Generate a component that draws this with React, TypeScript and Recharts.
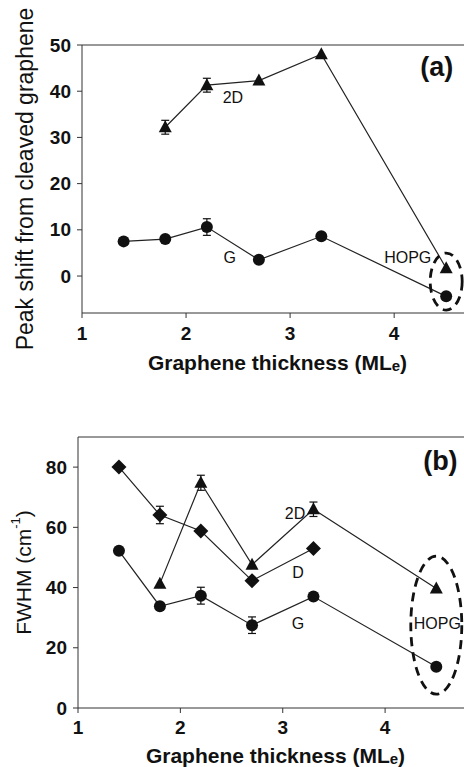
import React from 'react';
import {
  LineChart,
  Line,
  XAxis,
  YAxis,
  ErrorBar,
  ReferenceDot,
  ReferenceLine,
  Label,
} from 'recharts';

// Panel (a): peak shift vs graphene thickness
const aThick2D = [1.8, 2.2, 2.7, 3.3, 4.5];
const aShift2D = [32.2, 41.3, 42.3, 48.0, 1.7];
const aErr2D = [1.5, 1.5, null, null, null];

const aThickG = [1.4, 1.8, 2.2, 2.7, 3.3, 4.5];
const aShiftG = [7.5, 8.0, 10.6, 3.5, 8.6, -4.4];
const aErrG = [null, null, 1.8, null, null, null];

// Panel (b): FWHM vs graphene thickness
const bThickD = [1.4, 1.8, 2.2, 2.7, 3.3];
const bFwhmD = [80.0, 64.1, 58.8, 42.3, 53.0];
const bErrD = [null, 2.9, null, null, null];

const bThick2D = [1.8, 2.2, 2.7, 3.3, 4.5];
const bFwhm2D = [41.3, 74.8, 47.6, 66.0, 39.7];
const bErr2D = [null, 2.5, null, 2.4, null];

const bThickG = [1.4, 1.8, 2.2, 2.7, 3.3, 4.5];
const bFwhmG = [52.2, 33.8, 37.3, 27.5, 37.0, 13.7];
const bErrG = [null, null, 2.8, 2.75, null, null];

const xTicks = [1, 2, 3, 4];
const aYTicks = [0, 10, 20, 30, 40, 50];
const bYTicks = [0, 20, 40, 60, 80];

const toRows = (xs: number[], ys: number[], errs: (number | null)[]) =>
  xs.map((x, i) => ({ x, y: ys[i], err: errs[i] }));

const a2D = toRows(aThick2D, aShift2D, aErr2D);
const aG = toRows(aThickG, aShiftG, aErrG);
const bD = toRows(bThickD, bFwhmD, bErrD);
const b2D = toRows(bThick2D, bFwhm2D, bErr2D);
const bG = toRows(bThickG, bFwhmG, bErrG);

const FONT = '"Liberation Sans", Arial, sans-serif';
const INK = '#111';
const LINE = '#222';
const TICK_FONT = 19;

/* marker shapes */
const circleDot = (p: any) => (
  <circle key={`c${p.index}`} cx={p.cx} cy={p.cy} r={6} fill={INK} />
);
const triangleDot = (p: any) => (
  <polygon
    key={`t${p.index}`}
    points={`${p.cx},${p.cy - 7} ${p.cx - 6.5},${p.cy + 5} ${p.cx + 6.5},${p.cy + 5}`}
    fill={INK}
  />
);
const diamondDot = (p: any) => (
  <polygon
    key={`d${p.index}`}
    points={`${p.cx},${p.cy - 7.5} ${p.cx + 7.5},${p.cy} ${p.cx},${p.cy + 7.5} ${p.cx - 7.5},${p.cy}`}
    fill={INK}
  />
);

/* tick labels, bold like the original */
const xTick = (p: any) => (
  <text
    x={p.x}
    y={p.y + 12}
    textAnchor="middle"
    dominantBaseline="central"
    style={{ fontFamily: FONT, fontSize: TICK_FONT, fontWeight: 700 }}
    fill={INK}
  >
    {p.payload.value}
  </text>
);
const yTick = (p: any) => (
  <text
    x={p.x}
    y={p.y}
    textAnchor="end"
    dominantBaseline="central"
    style={{ fontFamily: FONT, fontSize: TICK_FONT, fontWeight: 700 }}
    fill={INK}
  >
    {p.payload.value}
  </text>
);

/* annotation text drawn at a data position */
function note(text: string, size = 16, bold = false) {
  return (p: any) => (
    <text
      x={p.cx}
      y={p.cy}
      textAnchor="middle"
      dominantBaseline="central"
      style={{ fontFamily: FONT, fontSize: size, fontWeight: bold ? 700 : 400 }}
      fill={INK}
    >
      {text}
    </text>
  );
}

function ellipse(rx: number, ry: number) {
  return (p: any) => (
    <ellipse
      cx={p.cx}
      cy={p.cy}
      rx={rx}
      ry={ry}
      fill="none"
      stroke={INK}
      strokeWidth={2.8}
      strokeDasharray="9 6"
    />
  );
}

function xTitle(below: number) {
  return (p: any) => {
    const vb = p.viewBox;
    const cx = vb.x + vb.width / 2 + 3;
    const cy = vb.y + below;
    return (
      <text
        x={cx}
        y={cy}
        textAnchor="middle"
        dominantBaseline="central"
        style={{ fontFamily: FONT, fontSize: 21, fontWeight: 700 }}
        fill={INK}
      >
        Graphene thickness (ML
        <tspan style={{ fontSize: 15 }} dy={3}>e</tspan>
        <tspan dy={-3}>)</tspan>
      </text>
    );
  };
}

function yTitle(offsetX: number, size: number, children: React.ReactNode) {
  return (p: any) => {
    const vb = p.viewBox;
    const cx = vb.x + offsetX;
    const cy = vb.y + vb.height / 2;
    return (
      <text
        x={cx}
        y={cy}
        transform={`rotate(-90 ${cx} ${cy})`}
        textAnchor="middle"
        dominantBaseline="central"
        style={{ fontFamily: FONT, fontSize: size }}
        fill={INK}
      >
        {children}
      </text>
    );
  };
}

export default function App() {
  return (
    <div style={styles.page}>
      <div style={styles.panelA}>
        <LineChart width={470} height={380} margin={{ top: 45, right: 3, left: 0, bottom: 0 }}>
          <XAxis
            type="number"
            dataKey="x"
            domain={[1, 4.7]}
            ticks={xTicks}
            allowDataOverflow
            stroke="#333"
            tickSize={5}
            tickMargin={3}
            tick={xTick}
            height={67}
          >
            <Label content={xTitle(49)} />
          </XAxis>
          <YAxis
            type="number"
            domain={[-8, 50]}
            ticks={aYTicks}
            allowDataOverflow
            stroke="#333"
            tickSize={5}
            tickMargin={6}
            tick={yTick}
            width={82}
          >
            <Label content={yTitle(25, 23, 'Peak shift from cleaved graphene')} />
          </YAxis>
          <ReferenceLine y={50} stroke="#333" />

          <Line
            data={a2D}
            dataKey="y"
            stroke={LINE}
            strokeWidth={1.2}
            dot={triangleDot}
            activeDot={false}
            isAnimationActive={false}
          >
            <ErrorBar dataKey="err" width={4} stroke={INK} strokeWidth={1.2} direction="y" />
          </Line>
          <Line
            data={aG}
            dataKey="y"
            stroke={LINE}
            strokeWidth={1.2}
            dot={circleDot}
            activeDot={false}
            isAnimationActive={false}
          >
            <ErrorBar dataKey="err" width={4} stroke={INK} strokeWidth={1.2} direction="y" />
          </Line>

          <ReferenceDot x={2.45} y={38.7} r={0} shape={note('2D')} />
          <ReferenceDot x={2.42} y={4.1} r={0} shape={note('G')} />
          <ReferenceDot x={4.13} y={4.1} r={0} shape={note('HOPG')} />
          <ReferenceDot x={4.41} y={45.2} r={0} shape={note('(a)', 27, true)} />
          <ReferenceDot x={4.5} y={-1.2} r={0} shape={ellipse(16, 28.5)} />
        </LineChart>
      </div>

      <div style={styles.panelB}>
        <LineChart width={470} height={367} margin={{ top: 37, right: 3, left: 0, bottom: 0 }}>
          <XAxis
            type="number"
            dataKey="x"
            domain={[1, 4.8]}
            ticks={xTicks}
            allowDataOverflow
            stroke="#333"
            tickSize={5}
            tickMargin={2}
            tick={xTick}
            height={59}
          >
            <Label content={xTitle(47)} />
          </XAxis>
          <YAxis
            type="number"
            domain={[0, 90]}
            ticks={bYTicks}
            allowDataOverflow
            stroke="#333"
            tickSize={5}
            tickMargin={6}
            tick={yTick}
            width={78}
          >
            <Label
              content={yTitle(
                23,
                21,
                <>
                  FWHM (cm
                  <tspan style={{ fontSize: 13 }} dy={-8}>-1</tspan>
                  <tspan dy={8}>)</tspan>
                </>
              )}
            />
          </YAxis>
          <ReferenceLine y={90} stroke="#333" />

          <Line
            data={bD}
            dataKey="y"
            stroke={LINE}
            strokeWidth={1.2}
            dot={diamondDot}
            activeDot={false}
            isAnimationActive={false}
          >
            <ErrorBar dataKey="err" width={4} stroke={INK} strokeWidth={1.2} direction="y" />
          </Line>
          <Line
            data={b2D}
            dataKey="y"
            stroke={LINE}
            strokeWidth={1.2}
            dot={triangleDot}
            activeDot={false}
            isAnimationActive={false}
          >
            <ErrorBar dataKey="err" width={4} stroke={INK} strokeWidth={1.2} direction="y" />
          </Line>
          <Line
            data={bG}
            dataKey="y"
            stroke={LINE}
            strokeWidth={1.2}
            dot={circleDot}
            activeDot={false}
            isAnimationActive={false}
          >
            <ErrorBar dataKey="err" width={4} stroke={INK} strokeWidth={1.2} direction="y" />
          </Line>

          <ReferenceDot x={3.12} y={64.6} r={0} shape={note('2D')} />
          <ReferenceDot x={3.15} y={45} r={0} shape={note('D')} />
          <ReferenceDot x={3.15} y={28.1} r={0} shape={note('G')} />
          <ReferenceDot x={4.51} y={28.1} r={0} shape={note('HOPG')} />
          <ReferenceDot x={4.54} y={82.1} r={0} shape={note('(b)', 27, true)} />
          <ReferenceDot x={4.5} y={27.5} r={0} shape={ellipse(25.5, 69)} />
        </LineChart>
      </div>
    </div>
  );
}

const styles: Record<string, React.CSSProperties> = {
  page: {
    position: 'absolute',
    left: 0,
    top: 0,
    width: 464,
    height: 767,
    overflow: 'hidden',
    backgroundColor: '#ffffff',
  },
  panelA: {
    position: 'absolute',
    left: 0,
    top: 0,
  },
  panelB: {
    position: 'absolute',
    left: 0,
    top: 400,
  },
};
